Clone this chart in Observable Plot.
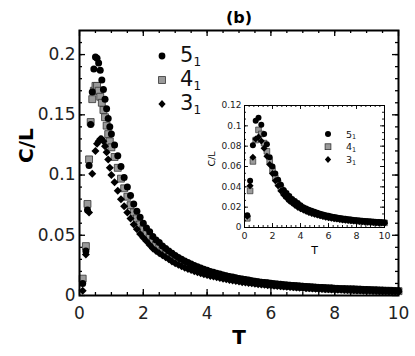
<!DOCTYPE html>
<html><head><meta charset="utf-8">
<script src="https://cdn.jsdelivr.net/npm/d3@7"></script>
<script src="https://cdn.jsdelivr.net/npm/@observablehq/plot@0.6"></script>
<style>
html,body{margin:0;padding:0;background:#fff;}
#wrap{position:relative;width:415px;height:356px;overflow:hidden;font-family:"DejaVu Sans",sans-serif;}
#main{position:absolute;left:0;top:0;}
#inset{position:absolute;left:200px;top:95px;}
#leg{position:absolute;left:0;top:0;pointer-events:none;}
</style></head><body>
<div id="wrap"><div id="main"></div><div id="inset"></div><svg id="leg" width="415" height="356"></svg></div>
<script>
// ---------- series names ----------
const seriesNames = ["5", "4", "3"];   // knot types 5_1, 4_1, 3_1

// ---------- main panel: low-T (peak) region, per series ----------
const peakT_5 = [0.1,0.2,0.25,0.3,0.35,0.4,0.45,0.5,0.55,0.6,0.65,0.7,0.75,0.8,0.85,0.9,0.95];
const peakV_5 = [0.010,0.037,0.071,0.108,0.142,0.169,0.188,0.198,0.197,0.193,0.187,0.179,0.171,0.163,0.155,0.147,0.140];
const peakT_4 = [0.1,0.2,0.25,0.3,0.35,0.4,0.45,0.5,0.55,0.6,0.65,0.7,0.75,0.8,0.85,0.9,0.95];
const peakV_4 = [0.014,0.041,0.076,0.113,0.144,0.163,0.170,0.174,0.174,0.170,0.165,0.160,0.154,0.148,0.141,0.134,0.128];
const peakT_3 = [0.1,0.2,0.3,0.4,0.5,0.55,0.6,0.65,0.7,0.75,0.8,0.85,0.9,0.95];
const peakV_3 = [0.004,0.034,0.069,0.101,0.120,0.126,0.128,0.130,0.130,0.128,0.124,0.119,0.113,0.106];

// ---------- main panel: T >= 1 region ----------
const tailT = [1.0,1.1,1.2,1.3,1.4,1.5,1.6,1.7,1.8,1.9,2.0,2.1,2.2,2.3,2.4,2.5,2.6,2.7,2.8,2.9,
3.0,3.1,3.2,3.3,3.4,3.5,3.6,3.7,3.8,3.9,4.0,4.1,4.2,4.3,4.4,4.5,4.6,4.7,4.8,4.9,
5.0,5.1,5.2,5.3,5.4,5.5,5.6,5.7,5.8,5.9,6.0,6.1,6.2,6.3,6.4,6.5,6.6,6.7,6.8,6.9,
7.0,7.1,7.2,7.3,7.4,7.5,7.6,7.7,7.8,7.9,8.0,8.1,8.2,8.3,8.4,8.5,8.6,8.7,8.8,8.9,
9.0,9.1,9.2,9.3,9.4,9.5,9.6,9.7,9.8,9.9,10.0];
const tailV_5 = [0.134,0.125,0.116,0.107,0.098,0.090,0.083,0.076,0.070,0.065,0.060,0.056,0.053,0.049,0.046,0.044,0.041,0.039,0.037,0.035,
0.0333,0.0316,0.0301,0.0287,0.0273,0.0261,0.0249,0.0238,0.0228,0.0218,0.0209,0.0200,0.0193,0.0185,0.0178,0.0171,0.0165,0.0158,0.0153,0.0147,
0.0142,0.0136,0.0132,0.0128,0.0123,0.0119,0.0115,0.0111,0.0108,0.0105,0.0102,0.0098,0.0095,0.0093,0.0090,0.0088,0.0085,0.0083,0.0081,0.0079,
0.0077,0.0075,0.0072,0.0071,0.0069,0.0067,0.0066,0.0064,0.0063,0.0062,0.0059,0.0058,0.0057,0.0056,0.0055,0.0054,0.0053,0.0052,0.0051,0.0050,
0.0049,0.0048,0.0046,0.0045,0.0044,0.0043,0.0042,0.0042,0.0041,0.0040,0.0039];
const tailV_4 = [0.123,0.115,0.106,0.097,0.089,0.082,0.075,0.069,0.064,0.059,0.055,0.051,0.048,0.045,0.042,0.040,0.038,0.036,0.034,0.032,
0.0305,0.0290,0.0276,0.0263,0.0251,0.0240,0.0229,0.0219,0.0210,0.0201,0.0193,0.0185,0.0178,0.0171,0.0164,0.0158,0.0152,0.0146,0.0141,0.0136,
0.0131,0.0126,0.0122,0.0118,0.0114,0.0110,0.0106,0.0103,0.0100,0.0097,0.0094,0.0091,0.0088,0.0086,0.0083,0.0081,0.0079,0.0077,0.0075,0.0073,
0.0071,0.0069,0.0067,0.0066,0.0064,0.0062,0.0061,0.0059,0.0058,0.0057,0.0055,0.0054,0.0053,0.0052,0.0051,0.0050,0.0049,0.0048,0.0047,0.0046,
0.0045,0.0044,0.0043,0.0042,0.0041,0.0040,0.0039,0.0039,0.0038,0.0037,0.0036];
const tailV_3 = [0.100,0.094,0.087,0.080,0.074,0.069,0.064,0.059,0.055,0.051,0.048,0.045,0.042,0.039,0.037,0.035,0.0334,0.0317,0.0300,0.0282,
0.0268,0.0255,0.0243,0.0231,0.0221,0.0211,0.0202,0.0193,0.0185,0.0177,0.0170,0.0163,0.0157,0.0151,0.0145,0.0140,0.0134,0.0129,0.0125,0.0120,
0.0116,0.0111,0.0108,0.0104,0.0101,0.0097,0.0094,0.0091,0.0089,0.0086,0.0083,0.0081,0.0078,0.0076,0.0074,0.0072,0.0070,0.0068,0.0066,0.0065,
0.0063,0.0061,0.0060,0.0058,0.0057,0.0055,0.0054,0.0052,0.0051,0.0050,0.0049,0.0048,0.0047,0.0046,0.0045,0.0044,0.0043,0.0042,0.0041,0.0040,
0.0040,0.0039,0.0038,0.0037,0.0036,0.0035,0.0035,0.0034,0.0033,0.0033,0.0032];

// ---------- inset panel ----------
const insetT = [0.2,0.4,0.6,0.8,1.0,1.2,1.4,1.6,1.8,2.0,2.2,2.4,2.6,2.8,3.0,3.2,3.4,3.6,3.8,4.0,
4.2,4.4,4.6,4.8,5.0,5.2,5.4,5.6,5.8,6.0,6.2,6.4,6.6,6.8,7.0,7.2,7.4,7.6,7.8,8.0,
8.2,8.4,8.6,8.8,9.0,9.2,9.4,9.6,9.8,10.0];
const insetV_5 = [0.012,0.046,0.081,0.105,0.108,0.101,0.092,0.082,0.069,0.060,0.053,0.047,0.042,0.037,0.034,0.031,0.028,0.026,0.024,0.022,
0.020,0.0188,0.0175,0.0164,0.0154,0.0145,0.0136,0.0128,0.0121,0.0115,0.0109,0.0103,0.0098,0.0093,0.0089,0.0085,0.0081,0.0078,0.0074,0.0071,
0.0068,0.0066,0.0063,0.0061,0.0059,0.0057,0.0055,0.0053,0.0051,0.0050];
const insetV_4 = [0.009,0.036,0.065,0.086,0.096,0.092,0.083,0.075,0.065,0.056,0.049,0.044,0.039,0.035,0.031,0.028,0.026,0.024,0.022,0.020,
0.0185,0.0172,0.0160,0.0150,0.0141,0.0133,0.0125,0.0118,0.0111,0.0105,0.0100,0.0095,0.0090,0.0086,0.0082,0.0078,0.0075,0.0072,0.0069,0.0066,
0.0063,0.0061,0.0059,0.0057,0.0055,0.0053,0.0051,0.0049,0.0048,0.0046];
const insetV_3 = [0.011,0.041,0.069,0.087,0.089,0.085,0.078,0.070,0.062,0.053,0.046,0.041,0.036,0.032,0.029,0.026,0.024,0.022,0.020,0.0185,
0.0171,0.0159,0.0148,0.0139,0.0130,0.0122,0.0115,0.0108,0.0102,0.0097,0.0092,0.0087,0.0083,0.0079,0.0075,0.0072,0.0069,0.0066,0.0063,0.0061,
0.0058,0.0056,0.0054,0.0052,0.0050,0.0049,0.0047,0.0045,0.0044,0.0043];

// ---------- tick labels ----------
const mainXTicks = [0,2,4,6,8,10];
const mainXTickLabels = ["0","2","4","6","8","10"];
const mainYTicks = [0,0.05,0.1,0.15,0.2];
const mainYTickLabels = ["0","0.05","0.1","0.15","0.2"];
const insetXTicks = [0,2,4,6,8,10];
const insetXTickLabels = ["0","2","4","6","8","10"];
const insetYTicks = [0,0.02,0.04,0.06,0.08,0.1,0.12];
const insetYTickLabels = ["0","0.02","0.04","0.06","0.08","0.1","0.12"];

// ---------- build tables ----------
const zipTV = (T, V) => T.map((t, i) => ({T: t, v: V[i]}));
const d5 = zipTV(peakT_5, peakV_5).concat(zipTV(tailT, tailV_5));
const d4 = zipTV(peakT_4, peakV_4).concat(zipTV(tailT, tailV_4));
const d3s = zipTV(peakT_3, peakV_3).concat(zipTV(tailT, tailV_3));
const i5 = zipTV(insetT, insetV_5), i4 = zipTV(insetT, insetV_4), i3 = zipTV(insetT, insetV_3);

const diamond = {draw(ctx, size) { const h = Math.sqrt(size / 2); ctx.moveTo(0, -h); ctx.lineTo(h, 0); ctx.lineTo(0, h); ctx.lineTo(-h, 0); ctx.closePath(); }};

function frameTicks(FW, FH, xMajor, xMinor, yMajor, yMinor, lMaj, lMin, sw) {
  const o = {stroke: "black", strokeWidth: sw};
  return [
    Plot.tickX(xMinor, {...o, x: d => d, insetTop: FH - lMin}),
    Plot.tickX(xMinor, {...o, x: d => d, insetBottom: FH - lMin}),
    Plot.tickX(xMajor, {...o, x: d => d, insetTop: FH - lMaj}),
    Plot.tickX(xMajor, {...o, x: d => d, insetBottom: FH - lMaj}),
    Plot.tickY(yMinor, {...o, y: d => d, insetRight: FW - lMin}),
    Plot.tickY(yMinor, {...o, y: d => d, insetLeft: FW - lMin}),
    Plot.tickY(yMajor, {...o, y: d => d, insetRight: FW - lMaj}),
    Plot.tickY(yMajor, {...o, y: d => d, insetLeft: FW - lMaj})
  ];
}

// ---------- main plot ----------
const W = 415, H = 356, mL = 79, mR = 17, mT = 30, mB = 61;
const FW = W - mL - mR, FH = H - mT - mB;
const mainXMinor = d3.range(0.5, 10, 0.5);
const mainYMinor = d3.range(0.01, 0.22, 0.01);
const main = Plot.plot({
  width: W, height: H, marginLeft: mL, marginRight: mR, marginTop: mT, marginBottom: mB,
  x: {domain: [0, 10]}, y: {domain: [0, 0.22]},
  style: {fontFamily: "DejaVu Sans", background: "transparent", color: "#222", overflow: "visible"},
  marks: [
    Plot.dot(d4, {x: "T", y: "v", r: 3.9, symbol: "square", fill: "#9a9a9a", stroke: "#333", strokeWidth: 0.8}),
    Plot.dot(d5, {x: "T", y: "v", r: 3.5, fill: "black"}),
    Plot.dot(d3s, {x: "T", y: "v", r: 3.2, symbol: diamond, fill: "black"}),
    ...frameTicks(FW, FH, mainXTicks, mainXMinor, mainYTicks, mainYMinor, 6, 3, 1.3),
    Plot.frame({stroke: "black", strokeWidth: 2}),
    Plot.axisX(mainXTicks, {tickSize: 0, tickPadding: 11, fontSize: 17, label: null, tickFormat: d => mainXTickLabels[mainXTicks.indexOf(d)]}),
    Plot.axisY(mainYTicks, {tickSize: 0, tickPadding: 4, fontSize: 17, label: null, tickFormat: d => mainYTickLabels[mainYTicks.indexOf(d)]}),
    Plot.text(["C/L"], {text: d => d, frameAnchor: "left", dx: -53, rotate: -90, lineAnchor: "middle", fontSize: 20, fontWeight: "bold", fill: "black"}),
    Plot.text(["T"], {text: d => d, frameAnchor: "bottom", dy: 42, lineAnchor: "middle", fontSize: 20, fontWeight: "bold", fill: "black"}),
    Plot.text(["(b)"], {text: d => d, frameAnchor: "top", dy: -13, lineAnchor: "middle", fontSize: 16, fontWeight: "bold", fill: "black"})
  ]
});
document.getElementById("main").append(main);

// ---------- inset plot ----------
const iW = 190, iH = 162, imL = 44, imR = 6, imT = 10, imB = 30;
const iFW = iW - imL - imR, iFH = iH - imT - imB;
const insetXMinor = d3.range(0, 10.001, 1 / 3);
const insetYMinor = d3.range(0, 0.1201, 0.02 / 3);
const inset = Plot.plot({
  width: iW, height: iH, marginLeft: imL, marginRight: imR, marginTop: imT, marginBottom: imB,
  x: {domain: [0, 10]}, y: {domain: [0, 0.12]},
  style: {fontFamily: "DejaVu Sans", background: "transparent", color: "#222", overflow: "visible"},
  marks: [
    Plot.dot(i4, {x: "T", y: "v", r: 3.2, symbol: "square", fill: "#9a9a9a", stroke: "#333", strokeWidth: 0.7}),
    Plot.dot(i5, {x: "T", y: "v", r: 3, fill: "black"}),
    Plot.dot(i3, {x: "T", y: "v", r: 2.8, symbol: diamond, fill: "black"}),
    ...frameTicks(iFW, iFH, insetXTicks, insetXMinor, insetYTicks, insetYMinor, 4, 2, 0.9),
    Plot.frame({stroke: "black", strokeWidth: 1}),
    Plot.axisX(insetXTicks, {tickSize: 0, tickPadding: 5, fontSize: 9.5, label: null, tickFormat: d => insetXTickLabels[insetXTicks.indexOf(d)]}),
    Plot.axisY(insetYTicks, {tickSize: 0, tickPadding: 3, fontSize: 9, label: null, tickFormat: d => insetYTickLabels[insetYTicks.indexOf(d)]}),
    Plot.text(["C/L"], {text: d => d, frameAnchor: "left", dx: -33, rotate: -90, lineAnchor: "middle", fontSize: 9.5, fill: "black"}),
    Plot.text(["T"], {text: d => d, frameAnchor: "bottom", dy: 23, lineAnchor: "middle", fontSize: 11, fill: "black"})
  ]
});
document.getElementById("inset").append(inset);

// ---------- legends ----------
const leg = d3.select("#leg");
function legend(x0, y0, dy, tx, fs, sfs, rC, sq, dh, baseOff) {
  seriesNames.forEach((name, i) => {
    const cy = y0 + i * dy;
    if (i === 0) leg.append("circle").attr("cx", x0).attr("cy", cy).attr("r", rC).attr("fill", "black");
    if (i === 1) leg.append("rect").attr("x", x0 - sq / 2).attr("y", cy - sq / 2).attr("width", sq).attr("height", sq)
      .attr("fill", "#9a9a9a").attr("stroke", "#333").attr("stroke-width", 0.8);
    if (i === 2) leg.append("path").attr("d", `M${x0},${cy - dh}L${x0 + dh * 0.9},${cy}L${x0},${cy + dh}L${x0 - dh * 0.9},${cy}Z`).attr("fill", "black");
    const t = leg.append("text").attr("x", tx).attr("y", cy + baseOff).attr("font-family", "DejaVu Sans").attr("fill", "#111");
    t.append("tspan").attr("font-size", fs).text(name);
    t.append("tspan").attr("font-size", sfs).attr("dy", fs * 0.17).text("1");
  });
}
legend(162, 56, 24, 180, 21, 12, 3.4, 6.8, 4, 6);
legend(328, 134, 12.7, 346, 9.5, 6.5, 3, 5.8, 3.5, 3.5);
</script>
</body></html>
